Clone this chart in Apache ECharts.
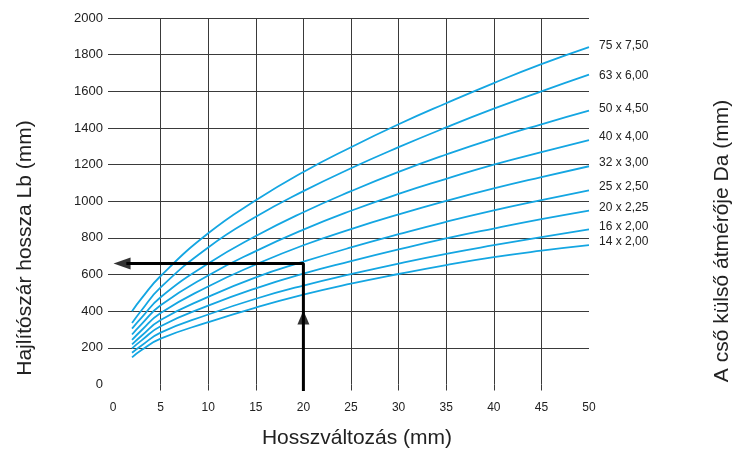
<!DOCTYPE html>
<html>
<head>
<meta charset="utf-8">
<script src="https://cdn.jsdelivr.net/npm/echarts@6/dist/echarts.min.js"></script>
<style>html,body{margin:0;padding:0;background:#fff;}#c{width:744px;height:449px;}</style>
</head>
<body>
<div id="c"></div>
<script>
// Hosszváltozás (mm) sample positions
const xValues = [2, 3, 5, 10, 15, 20, 25, 30, 35, 40, 45, 50];
// Hajlítószár hossza Lb (mm) per pipe size
const pipe75 = [400, 470, 592, 825, 1005, 1160, 1295, 1420, 1535, 1645, 1748, 1841];
const pipe63 = [335, 405, 530, 748, 915, 1055, 1180, 1295, 1403, 1505, 1600, 1691];
const pipe50 = [305, 365, 476, 660, 810, 940, 1055, 1160, 1255, 1342, 1420, 1494];
const pipe40 = [273, 330, 432, 595, 728, 845, 948, 1040, 1122, 1200, 1268, 1333];
const pipe32 = [243, 296, 390, 535, 655, 760, 848, 928, 1002, 1070, 1132, 1191];
const pipe25 = [219, 266, 352, 478, 585, 670, 748, 820, 888, 950, 1006, 1059];
const pipe20 = [197, 241, 318, 430, 525, 605, 673, 737, 797, 851, 902, 949];
const pipe16 = [173, 213, 283, 382, 468, 540, 602, 660, 713, 760, 804, 846];
const pipe14 = [148, 188, 250, 340, 420, 490, 550, 603, 652, 695, 730, 760];
const seriesNames = ['75 x 7,50', '63 x 6,00', '50 x 4,50', '40 x 4,00', '32 x 3,00', '25 x 2,50', '20 x 2,25', '16 x 2,00', '14 x 2,00'];
const seriesValues = [pipe75, pipe63, pipe50, pipe40, pipe32, pipe25, pipe20, pipe16, pipe14];
const labelShift = [-1, 1, -2.5, -3.5, -3.5, -4, -3, -3, -3.5];
// example reading path (x, Lb)
const arrowPath = [[20, -36], [20, 660], [1.4, 660]];
const arrowHeadUp = [[20, 366]];
const arrowHeadLeft = [[0.95, 660]];
// tick labels
const xTicks = [0, 5, 10, 15, 20, 25, 30, 35, 40, 45, 50];
const yTicks = [0, 200, 400, 600, 800, 1000, 1200, 1400, 1600, 1800, 2000];

const gridColor = '#3a3a3a';
const curveColor = '#14a6e2';
const txt = '#222';
const font = "'Liberation Sans', Arial, sans-serif";

const chart = echarts.init(document.getElementById('c'), null, {renderer: 'canvas'});

const series = seriesNames.map((name, i) => ({
  name: name,
  type: 'line',
  xAxisIndex: 0,
  smooth: 0.5,
  showSymbol: false,
  symbol: 'none',
  lineStyle: {color: curveColor, width: 1.8},
  data: xValues.map((x, j) => [x, seriesValues[i][j]]),
  endLabel: {
    show: true,
    formatter: '{a}',
    distance: 10,
    offset: [0, labelShift[i]],
    color: txt,
    fontSize: 12,
    fontFamily: font
  },
  z: 3,
  silent: true
}));

series.push({
  type: 'line',
  xAxisIndex: 0,
  data: arrowPath,
  showSymbol: false,
  symbol: 'none',
  clip: false,
  lineStyle: {color: '#000', width: 3},
  z: 5,
  silent: true
});
series.push({
  type: 'scatter',
  xAxisIndex: 0,
  data: arrowHeadUp,
  symbol: 'triangle',
  symbolSize: [12, 14],
  itemStyle: {color: '#000'},
  clip: false,
  z: 6,
  silent: true
});
series.push({
  type: 'scatter',
  xAxisIndex: 0,
  data: arrowHeadLeft,
  symbol: 'triangle',
  symbolSize: [12, 17],
  symbolRotate: 90,
  itemStyle: {color: '#000'},
  clip: false,
  z: 6,
  silent: true
});

chart.setOption({
  animation: false,
  backgroundColor: '#fff',
  grid: {left: 113, right: 155, top: 18, bottom: 64.5, containLabel: false},
  xAxis: [{
    type: 'value',
    min: xTicks[0],
    max: xTicks[xTicks.length - 1],
    interval: 5,
    axisLine: {show: false},
    axisTick: {show: true, length: 6, inside: false, customValues: xTicks.slice(1, -1), lineStyle: {color: gridColor, width: 1}},
    axisLabel: {margin: 17, color: txt, fontSize: 12, fontFamily: font, customValues: xTicks, formatter: v => String(v)},
    splitLine: {show: false}
  }, {
    type: 'value',
    position: 'bottom',
    min: xTicks[0],
    max: xTicks[xTicks.length - 1],
    interval: 5,
    axisLine: {show: false},
    axisTick: {show: false},
    axisLabel: {show: false},
    splitLine: {show: true, showMinLine: false, showMaxLine: false, lineStyle: {color: gridColor, width: 1}}
  }],
  yAxis: {
    type: 'value',
    min: yTicks[0],
    max: yTicks[yTicks.length - 1],
    interval: 200,
    axisLine: {show: false},
    axisTick: {show: true, length: 5, inside: false, customValues: yTicks.slice(1), lineStyle: {color: gridColor, width: 1}},
    axisLabel: {margin: 10, color: txt, fontSize: 13, fontFamily: font, customValues: yTicks, formatter: v => String(v)},
    splitLine: {show: true, showMinLine: true, showMaxLine: true, lineStyle: {color: gridColor, width: 1}}
  },
  graphic: [
    {type: 'text', x: 357, y: 438, style: {text: 'Hosszváltozás (mm)', font: "21px " + font, fill: txt, align: 'center', verticalAlign: 'middle'}},
    {type: 'text', x: 25, y: 248, rotation: Math.PI / 2, style: {text: 'Hajlítószár hossza Lb (mm)', font: "21px " + font, fill: txt, align: 'center', verticalAlign: 'middle'}},
    {type: 'text', x: 722, y: 241, rotation: Math.PI / 2, style: {text: 'A cső külső átmérője Da (mm)', font: "21px " + font, fill: txt, align: 'center', verticalAlign: 'middle'}}
  ],
  series: series
});
</script>
</body>
</html>
